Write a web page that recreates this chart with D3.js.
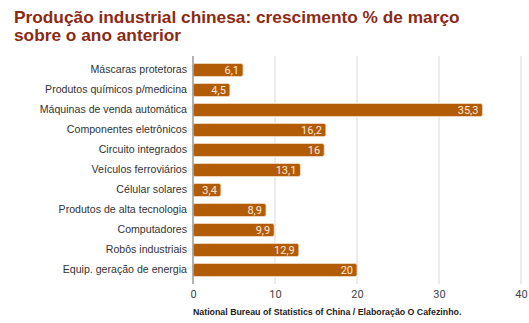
<!DOCTYPE html>
<html><head><meta charset="utf-8">
<script src="https://cdn.jsdelivr.net/npm/d3@7"></script>
<style>body{margin:0;background:#fff;}svg{display:block;}</style>
</head><body>
<script>
const categories = ["Máscaras protetoras","Produtos químicos p/medicina","Máquinas de venda automática","Componentes eletrônicos","Circuito integrados","Veículos ferroviários","Célular solares","Produtos de alta tecnologia","Computadores","Robôs industriais","Equip. geração de energia"];
const values = [6.1,4.5,35.3,16.2,16,13.1,3.4,8.9,9.9,12.9,20];
const valueLabels = ["6,1","4,5","35,3","16,2","16","13,1","3,4","8,9","9,9","12,9","20"];
const ticks = [0,10,20,30,40];
const titleLines = ["Produção industrial chinesa: crescimento % de março","sobre o ano anterior"];
const source = "National Bureau of Statistics of China / Elaboração O Cafezinho.";

const W=529,H=323;
const svg=d3.select("body").append("svg").attr("width",W).attr("height",H);
svg.append("rect").attr("width",W).attr("height",H).attr("fill","#fff");

const x=d3.scaleLinear().domain([0,40]).range([193,521]);
const y=d3.scaleBand().domain(categories).range([60,280]).paddingInner(0.35).paddingOuter(0.175);

titleLines.forEach((l,i)=>svg.append("text").attr("x",14).attr("y",23+i*18)
  .attr("font-family","Liberation Sans, Arial, sans-serif").attr("font-weight","bold")
  .attr("font-size",17.3).attr("fill","#8c2a14").text(l));

// grid
svg.append("g").selectAll("line").data(ticks.slice(1)).join("line")
  .attr("x1",d=>x(d)).attr("x2",d=>x(d)).attr("y1",56).attr("y2",284)
  .attr("stroke","#d9d9d9").attr("stroke-width",1);

// axis labels
const xa=svg.append("g").attr("transform","translate(0,284)").call(d3.axisBottom(x).tickValues(ticks).tickSize(0).tickPadding(6).tickFormat(d3.format("d")));
xa.select(".domain").remove();
xa.selectAll("text").attr("font-family","Roboto, sans-serif").attr("font-size",11).attr("fill","#444");

// bars
svg.append("g").selectAll("rect").data(values).join("rect")
  .attr("x",x(0)).attr("y",(d,i)=>y(categories[i]))
  .attr("width",d=>x(d)-x(0)).attr("height",y.bandwidth())
  .attr("rx",2).attr("fill","#b35c08").attr("stroke","#f3dcc4").attr("stroke-width",0.8);

svg.append("g").selectAll("text").data(values).join("text")
  .attr("x",d=>x(d)-4).attr("y",(d,i)=>y(categories[i])+y.bandwidth()/2)
  .attr("dy","0.36em").attr("text-anchor","end")
  .attr("font-family","Roboto, sans-serif").attr("font-size",11).attr("fill","#fbe9d8")
  .text((d,i)=>valueLabels[i]);

// y axis
const ya=svg.append("g").attr("transform","translate(193,0)").call(d3.axisLeft(y).tickSize(0).tickPadding(6));
ya.select(".domain").attr("stroke","#999").attr("stroke-width",1.5).attr("d","M0,56V284");
ya.selectAll("text").attr("font-family","Liberation Sans, Arial, sans-serif").attr("font-size",10.6).attr("fill","#333");

svg.append("text").attr("x",193).attr("y",315).attr("font-family","Liberation Sans, Arial, sans-serif").attr("font-weight","bold").attr("font-size",8.8).attr("fill","#222").text(source);
</script>
</body></html>
